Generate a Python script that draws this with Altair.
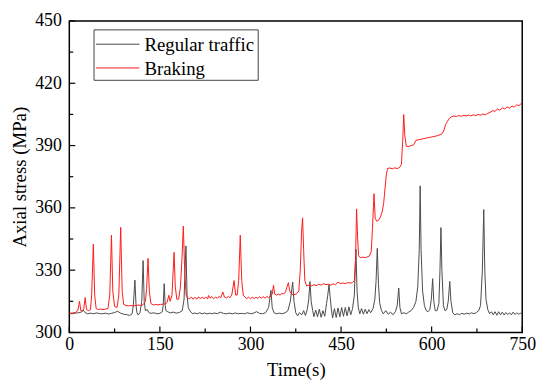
import altair as alt
import pandas as pd

# ---- data ----
series_names = ["Regular traffic", "Braking"]
series_colors = ["#4a4a4a", "#ff1a1a"]

reg_t = [0, 5, 10, 15, 20, 23, 26, 30, 35, 40, 45, 50, 55, 60, 65, 70, 75, 80, 85, 90,
         95, 100, 104, 106, 108.6, 110.5, 112, 114, 117, 120, 122.2, 124, 126, 129, 132, 135, 140, 145, 150, 154,
         155.5, 157.1, 158.8, 160, 163, 167, 172, 177, 182, 187, 190, 193.1, 195, 197, 200, 204, 208, 212, 216, 220,
         224, 228, 232, 236, 240, 245, 250, 255, 260, 265, 270, 275, 280, 285, 290, 295, 300, 305, 310, 315,
         320, 325, 330, 333.9, 336, 339, 343, 348, 352, 357, 362, 366, 369.9, 372, 375, 378, 381, 385, 388, 391,
         394, 396.5, 398.5, 400.5, 403, 405, 408, 411, 414, 417, 420, 423, 426, 428, 430, 432, 434, 436, 439, 442,
         445, 448, 451, 454, 457, 460, 463, 466, 469, 472, 474.6, 476.5, 478.5, 481, 484, 487, 490, 493, 496, 499,
         503, 506, 508, 510, 512, 514, 517, 520, 524, 528, 532, 536, 540, 543, 545.5, 547.5, 550, 554, 558, 562,
         566, 570, 574, 577, 579.5, 581, 582.5, 585, 588, 591, 594, 597, 599.5, 601.7, 603.5, 606, 609, 612, 613.8, 615.4,
         617, 619.5, 622, 625, 627.5, 630, 632, 635, 638, 642, 646, 650, 654, 658, 662, 666, 670, 674, 678, 681,
         684, 686.3, 688, 690, 693, 696, 699, 702, 705, 708, 711, 714, 717, 720, 723, 726, 729, 732, 735, 738,
         741, 744, 747, 750]
reg_v = [309.2, 309.0, 309.3, 309.5, 309.8, 310.8, 309.6, 309.0, 309.3, 309.0, 309.4, 309.1, 309.0, 309.3, 308.9, 309.2, 309.6, 310.2, 309.3, 308.8,
         308.6, 308.2, 309.0, 313.0, 325.2, 313.0, 309.5, 308.4, 309.5, 315.0, 334.6, 315.0, 310.5, 311.0, 309.5, 309.2, 309.5, 309.0, 309.2, 310.0,
         313.0, 323.5, 313.0, 310.5, 310.0, 309.4, 309.8, 309.3, 309.6, 310.5, 316.0, 341.7, 318.0, 312.0, 310.3, 309.0, 309.4, 309.0, 309.5, 309.0,
         309.4, 308.9, 309.3, 309.0, 309.4, 309.0, 309.8, 309.2, 309.0, 309.3, 309.0, 309.4, 309.0, 309.2, 309.0, 309.5, 309.0, 309.3, 310.0, 309.2,
         309.0, 309.5, 312.0, 320.3, 312.0, 309.5, 309.0, 309.3, 309.0, 309.4, 310.5, 315.0, 324.3, 315.0, 309.5, 308.0, 309.5, 308.5, 310.5, 308.2,
         311.0, 316.0, 324.5, 315.0, 310.5, 307.6, 310.8, 307.5, 311.2, 307.3, 310.5, 307.8, 314.0, 318.0, 323.0, 317.0, 311.0, 307.0, 311.5, 307.2,
         311.8, 307.5, 312.0, 307.8, 312.0, 308.0, 312.3, 308.5, 311.5, 318.0, 340.1, 320.0, 312.0, 309.0, 311.5, 308.8, 311.2, 309.0, 311.0, 309.5,
         311.5, 316.0, 325.0, 340.5, 323.0, 314.0, 310.5, 309.0, 310.5, 308.8, 309.8, 308.5, 310.0, 313.0, 321.4, 312.0, 309.0, 309.5, 309.0, 309.8,
         310.5, 312.0, 315.0, 322.0, 340.0, 370.6, 340.0, 320.0, 313.0, 310.5, 310.0, 311.0, 316.0, 325.9, 315.0, 310.5, 310.5, 314.0, 330.0, 350.5,
         330.0, 313.0, 310.5, 311.0, 315.0, 324.6, 315.0, 309.5, 308.5, 309.0, 308.6, 309.2, 308.8, 309.3, 308.9, 309.5, 309.0, 309.6, 310.5, 313.0,
         330.0, 359.2, 330.0, 316.0, 311.0, 309.0, 310.0, 308.5, 310.0, 308.3, 310.0, 308.5, 309.8, 308.4, 309.6, 308.6, 309.5, 308.5, 309.8, 308.6,
         309.5, 308.8, 309.2, 309.5]

brk_t = [0, 5, 10, 14, 16.9, 19, 22, 24, 26.2, 28.5, 32, 35, 37, 39.8, 42, 44.5, 48, 52, 56, 60,
         64, 67, 69.8, 72, 75, 79, 82, 85.1, 87.5, 90, 94, 98, 102, 106, 110, 114, 118, 122, 126, 128,
         130.4, 132.5, 135, 139, 143, 147, 151, 155, 159, 162, 164.7, 167, 170, 173.5, 175.5, 178, 181, 184, 186.5, 188.8,
         191, 193.5, 196, 199, 202, 205, 208, 211, 214, 217, 220, 223, 226, 229, 230.5, 233, 236, 239, 242, 245,
         248, 251, 254.2, 257, 260, 263, 266, 269, 272.8, 275.5, 278, 280.5, 283.1, 285.5, 288, 291, 294, 297, 300, 303,
         306, 309, 312, 315, 318, 321, 324, 327, 330, 333, 336, 338.2, 340, 343, 346, 349, 352, 355, 358, 360.5,
         362.8, 365, 368, 372, 376, 380, 382.5, 384.5, 386.3, 388, 390, 393, 397, 401, 405, 409, 413, 417, 421, 425,
         429, 433, 437, 441, 445, 449, 453, 457, 461, 465, 469, 472, 474, 475.7, 477.5, 479, 482, 486, 490, 494,
         497, 500, 502, 504.6, 506.5, 509, 512, 515, 518, 520.5, 523, 525, 527, 531, 535, 539, 543, 547, 550, 552,
         553.8, 555.5, 558, 562, 566, 570, 574, 578, 582, 586, 590, 594, 598, 602, 606, 610, 614, 617, 620, 623,
         626, 629, 633, 637, 641, 645, 649, 653, 657, 661, 665, 669, 673, 677, 681, 685, 689, 693, 697, 701,
         705, 709, 713, 717, 721, 725, 729, 733, 737, 741, 745, 748, 750]
brk_v = [309.2, 309.4, 309.6, 310.5, 315.0, 310.5, 310.3, 311.5, 316.8, 311.0, 310.5, 311.0, 318.0, 342.5, 318.0, 311.5, 311.0, 311.3, 311.0, 311.3,
         311.5, 318.0, 346.8, 320.0, 312.5, 312.0, 318.0, 350.6, 320.0, 313.5, 313.0, 312.8, 313.0, 312.8, 313.0, 313.2, 313.0, 313.3, 315.0, 321.0,
         335.7, 320.0, 314.0, 313.2, 313.5, 313.3, 313.5, 313.6, 313.8, 314.5, 317.9, 315.0, 318.0, 338.6, 322.0, 316.0, 316.0, 322.0, 335.0, 351.2,
         330.0, 318.0, 316.5, 316.2, 317.0, 316.0, 317.0, 316.0, 317.2, 316.2, 317.0, 316.3, 317.0, 316.2, 317.8, 316.5, 317.3, 316.3, 317.0, 316.5,
         317.3, 316.8, 319.5, 317.0, 316.6, 317.3, 316.8, 318.0, 325.0, 318.0, 318.0, 325.0, 346.8, 325.0, 318.0, 317.0, 316.3, 317.0, 316.2, 317.0,
         316.3, 317.0, 316.4, 317.2, 316.5, 317.3, 316.5, 317.3, 316.8, 317.5, 318.5, 322.7, 318.5, 318.0, 318.5, 318.0, 318.8, 318.5, 319.5, 322.0,
         324.0, 320.0, 318.5, 318.2, 318.5, 320.0, 330.0, 348.0, 355.2, 340.0, 325.0, 322.4, 322.8, 322.4, 323.0, 322.6, 323.2, 322.8, 323.5, 323.0,
         323.3, 322.8, 323.4, 323.0, 324.3, 323.5, 323.8, 323.5, 324.0, 323.8, 324.0, 325.0, 335.0, 359.5, 345.0, 337.0, 336.0, 336.3, 336.0, 336.5,
         336.8, 339.0, 350.0, 366.8, 355.0, 353.6, 354.0, 355.5, 358.0, 362.0, 370.0, 376.0, 379.0, 379.2, 378.8, 379.3, 378.9, 379.5, 381.0, 392.0,
         404.9, 395.0, 389.7, 389.5, 390.0, 390.3, 392.5, 392.8, 393.0, 393.3, 393.5, 393.8, 394.0, 394.3, 394.5, 394.8, 395.2, 395.6, 397.0, 400.0,
         401.5, 403.0, 403.9, 404.2, 404.0, 404.5, 404.1, 404.6, 404.2, 404.7, 404.3, 404.8, 404.4, 405.0, 404.6, 405.2, 404.8, 405.5, 406.0, 406.8,
         406.5, 407.6, 407.0, 408.2, 407.6, 408.6, 408.0, 409.0, 408.6, 409.6, 409.2, 410.3, 410.5]

x_major = [0, 150, 300, 450, 600, 750]
x_minor = [75, 225, 375, 525, 675]
y_major = [300, 330, 360, 390, 420, 450]
y_minor = [315, 345, 375, 405, 435]

W, H = 458, 315
FONT = "Liberation Serif"

reg_df = pd.DataFrame({"t": reg_t, "v": reg_v, "series": series_names[0]})
brk_df = pd.DataFrame({"t": brk_t, "v": brk_v, "series": series_names[1]})

x_scale = alt.Scale(domain=[0, 750], nice=False, zero=False)
y_scale = alt.Scale(domain=[300, 450], nice=False, zero=False)

x_axis = alt.Axis(values=x_major, title="Time(s)", ticks=False, domain=False, grid=False,
                  labelFont=FONT, labelFontSize=18, labelColor="black", labelPadding=3,
                  titleFont=FONT, titleFontSize=19, titleFontWeight="normal", titleColor="black",
                  titleX=W / 2, titleY=44, titleBaseline="alphabetic", labelFlush=False)
y_axis = alt.Axis(values=y_major, title="Axial stress (MPa)", ticks=False, domain=False, grid=False,
                  labelFont=FONT, labelFontSize=18, labelColor="black", labelPadding=8,
                  titleFont=FONT, titleFontSize=19, titleFontWeight="normal", titleColor="black",
                  titleX=-50, titleY=H / 2, titleAngle=270, titleAlign="center", titleBaseline="middle",
                  labelFlush=False)

X = lambda: alt.X("t:Q", scale=x_scale, axis=x_axis)
Y = lambda: alt.Y("v:Q", scale=y_scale, axis=y_axis)


def line_layer(df, color):
    return alt.Chart(df).mark_line(strokeWidth=1, color=color, clip=True).encode(x=X(), y=Y())


reg_line = line_layer(reg_df, series_colors[0])
brk_line = line_layer(brk_df, series_colors[1])

# inward ticks
ytick_major = alt.Chart(pd.DataFrame({"v": y_major})).mark_rule(color="black", strokeWidth=1.2).encode(
    y=Y(), x=alt.value(0), x2=alt.value(6))
ytick_minor = alt.Chart(pd.DataFrame({"v": y_minor})).mark_rule(color="black", strokeWidth=1.2).encode(
    y=Y(), x=alt.value(0), x2=alt.value(4))
xtick_major = alt.Chart(pd.DataFrame({"t": x_major})).mark_rule(color="black", strokeWidth=1.2).encode(
    x=X(), y=alt.value(H), y2=alt.value(H - 6))
xtick_minor = alt.Chart(pd.DataFrame({"t": x_minor})).mark_rule(color="black", strokeWidth=1.2).encode(
    x=X(), y=alt.value(H), y2=alt.value(H - 4))

# legend box
leg_box = alt.Chart(pd.DataFrame({"a": [0]})).mark_rect(fill="white", stroke="#444444", strokeWidth=1).encode(
    x=alt.value(25), x2=alt.value(191), y=alt.value(9), y2=alt.value(60))
leg_items = []
for i, (name, col) in enumerate(zip(series_names, series_colors)):
    yy = 23.5 + i * 24
    one = alt.Chart(pd.DataFrame({"name": [name]}))
    leg_items.append(one.mark_rule(color=col, strokeWidth=1).encode(
        x=alt.value(27), x2=alt.value(71), y=alt.value(yy)))
    leg_items.append(one.mark_text(font=FONT, fontSize=19, color="black", align="left", baseline="middle").encode(
        x=alt.value(76), y=alt.value(yy + 1), text="name:N"))

chart = alt.layer(
    reg_line, brk_line, ytick_major, ytick_minor, xtick_major, xtick_minor, leg_box, *leg_items
).properties(
    width=W, height=H,
    autosize=alt.AutoSizeParams(type="none"),
    padding={"left": 62, "top": 11, "right": 20, "bottom": 50},
).configure(background="white").configure_view(stroke="black", strokeWidth=1.5)

chart.save("out.html", embed_options={"renderer": "svg", "actions": False})
